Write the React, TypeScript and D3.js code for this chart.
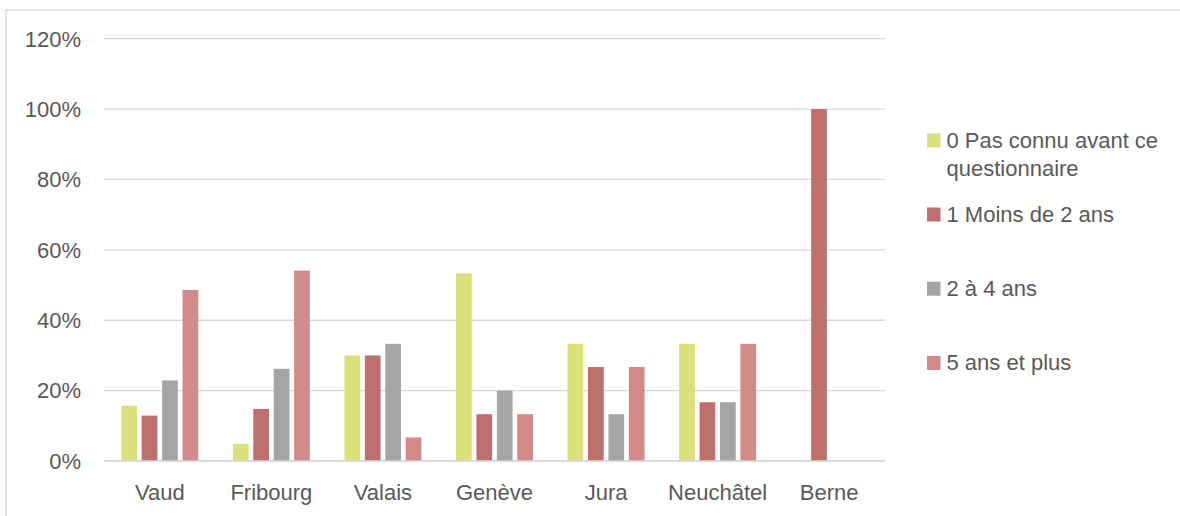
import React from "react";
import * as d3 from "d3";

const categories = ["Vaud", "Fribourg", "Valais", "Genève", "Jura", "Neuchâtel", "Berne"];
const seriesNames = ["0 Pas connu avant ce questionnaire", "1 Moins de 2 ans", "2 à 4 ans", "5 ans et plus"];
const seriesColors = ["#DAE07A", "#C06F6F", "#A5A5A5", "#D38B88"];
const pasConnu = [15.7, 4.9, 30.0, 53.3, 33.3, 33.3, 0];
const moinsDe2 = [12.9, 14.8, 30.0, 13.3, 26.7, 16.7, 100];
const deux4 = [22.9, 26.2, 33.3, 20.0, 13.3, 16.7, 0];
const cinqPlus = [48.6, 54.1, 6.7, 13.3, 26.7, 33.3, 0];
const seriesValues = [pasConnu, moinsDe2, deux4, cinqPlus];
const yTicks = [0, 20, 40, 60, 80, 100, 120];
const legendLines = [["0 Pas connu avant ce", "questionnaire"], ["1 Moins de 2 ans"], ["2 à 4 ans"], ["5 ans et plus"]];

const W = 1180, H = 516;
const FONT = "'Liberation Sans', Arial, sans-serif";
const TEXT = "#595959";
const GRID = "#D9D9D9";

export default function App() {
  const x0 = d3.scaleBand<string>().domain(categories).range([104, 885]).paddingInner(0.31).paddingOuter(0.155);
  const x1 = d3.scaleBand<number>().domain([0, 1, 2, 3]).range([0, x0.bandwidth()]).paddingInner(0.23).paddingOuter(0);
  const y = d3.scaleLinear().domain([0, 120]).range([461, 38.7]);

  const legendY = [140.5, 214.5, 288.7, 363];

  return (
    <svg width={W} height={H} style={{ position: "absolute", left: 0, top: 0, background: "#fff" }} fontFamily={FONT}>
      <rect x={6} y={10} width={W} height={H} fill="#fff" stroke={GRID} strokeWidth={1.3} />
      {yTicks.map((t) => (
        <g key={t}>
          <line x1={104} x2={885} y1={y(t)} y2={y(t)} stroke={GRID} strokeWidth={1.3} />
          <text x={81} y={y(t) + 7.8} textAnchor="end" fontSize={22} fill={TEXT}>{`${t}%`}</text>
        </g>
      ))}
      {categories.map((c, ci) => (
        <g key={c} transform={`translate(${x0(c)},0)`}>
          {seriesValues.map((vals, si) =>
            vals[ci] > 0 ? (
              <rect key={si} x={x1(si)} y={y(vals[ci])} width={x1.bandwidth()} height={y(0) - y(vals[ci])} fill={seriesColors[si]} />
            ) : null
          )}
          <text x={x0.bandwidth() / 2} y={499.5} textAnchor="middle" fontSize={22} fill={TEXT}>{c}</text>
        </g>
      ))}
      <line x1={104} x2={885} y1={y(0)} y2={y(0)} stroke={GRID} strokeWidth={1.3} />
      {seriesNames.map((n, i) => (
        <g key={n}>
          <rect x={927} y={legendY[i] - 7} width={13.5} height={14} fill={seriesColors[i]} />
          <text x={946.5} y={legendY[i] + 7} fontSize={22} fill={TEXT}>
            {legendLines[i].map((l, li) => (
              <tspan key={li} x={946.5} dy={li === 0 ? 0 : 28.5}>{l}</tspan>
            ))}
          </text>
        </g>
      ))}
    </svg>
  );
}
